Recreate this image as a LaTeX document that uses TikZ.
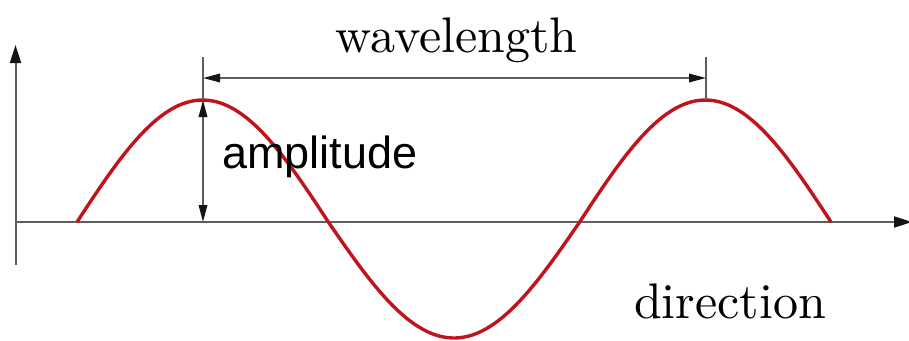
\documentclass[tikz,border=0pt]{standalone}
\usepackage{fontspec}
\newfontfamily\arialfont{Liberation Sans}
\newfontfamily\lmten{lmroman10-regular.otf}
\usetikzlibrary{arrows.meta}
\definecolor{axisgray}{HTML}{5E5E5E}
\definecolor{headblack}{HTML}{151515}
\definecolor{wavered}{HTML}{C0141C}
\tikzset{
  axisline/.style={draw=axisgray, line width=2pt},
  axisarrow/.style={axisline, -{Triangle[length=18pt,width=11pt,color=headblack]}},
  dimline/.style={draw=axisgray, line width=1.8pt},
  dimarrow/.style={dimline, {Triangle[length=17pt,width=8.5pt,color=headblack]}-{Triangle[length=17pt,width=8.5pt,color=headblack]}},
  waveline/.style={draw=wavered, line width=3.4pt},
  serifbig/.style={font=\lmten\fontsize{50}{60}\selectfont, anchor=base, inner sep=0pt},
  sansbig/.style={font=\arialfont\fontsize{45}{54}\selectfont, anchor=base, inner sep=0pt},
}
\begin{document}
\begin{tikzpicture}[x=1pt, y=-1pt]
\useasboundingbox (0,0) rectangle (909,340);
% axes
\coordinate (ytop) at (15.5,45);
\coordinate (ybot) at (15.5,265);
\coordinate (xleft) at (15.5,222);
\coordinate (xright) at (912,222);
\draw[axisarrow] (ybot) -- (ytop);
\draw[axisarrow] (xleft) -- (xright);
% wave
\draw[waveline, domain=77:328.33, samples=60, smooth, variable=\t]
  plot (\t, {222-122*sin((\t-77)/502.67*360)});
\draw[waveline, domain=328.33:579.67, samples=60, smooth, variable=\t]
  plot (\t, {222-116*sin((\t-77)/502.67*360)});
\draw[waveline, domain=579.67:831, samples=60, smooth, variable=\t]
  plot (\t, {222-122*sin((\t-77)/502.67*360)});
% dimension marks
\coordinate (peakA) at (203,100);
\coordinate (peakB) at (706,100);
\coordinate (tickA) at (203,57);
\coordinate (tickB) at (706,57);
\coordinate (baseA) at (203,222);
\coordinate (wlA) at (203,78);
\coordinate (wlB) at (706,78);
\draw[dimline] (tickA) -- (peakA);
\draw[dimline] (tickB) -- (peakB);
\draw[dimarrow] (wlA) -- (wlB);
\draw[dimarrow] (peakA) -- (baseA);
% labels
\node[serifbig] (wavelength) at (456.5,52) {wavelength};
\node[sansbig] (amplitude) at (320,168) {amplitude};
\node[serifbig] (direction) at (730,318) {direction};
\end{tikzpicture}
\end{document}
